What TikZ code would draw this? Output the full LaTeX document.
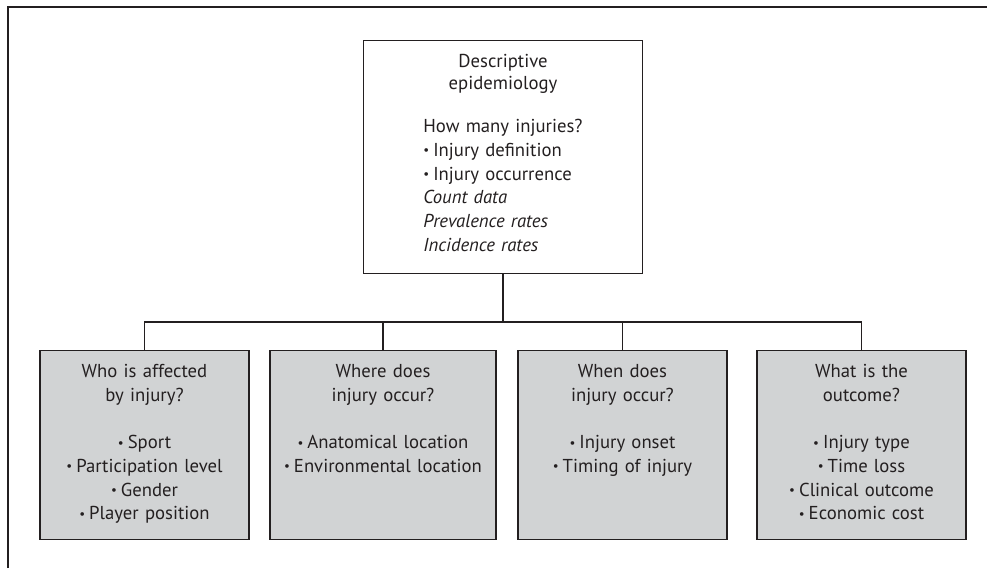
\documentclass[tikz,border=0pt]{standalone}
\usepackage{fontspec}
\setmainfont{PT Sans}
\usetikzlibrary{positioning}
\definecolor{inkgrey}{HTML}{231F20}
\definecolor{boxgrey}{HTML}{D1D3D4}
\newcommand{\bul}{\raisebox{1.6pt}{\fontsize{13}{0}\selectfont\textbullet}\hspace{4pt}}
\tikzset{
  basebox/.style={draw=inkgrey, line width=1.3pt, inner xsep=4pt, inner ysep=4pt,
    align=center, anchor=north, text=inkgrey, font=\fontsize{18.7}{23.7}\selectfont},
  topbox/.style={basebox, text width=271pt, text height=23pt, text depth=202pt},
  catbox/.style={basebox, fill=boxgrey, text width=201pt, text height=23pt, text depth=158pt},
  wire/.style={draw=inkgrey, line width=1.3pt}
}

\begin{document}
\begin{tikzpicture}[x=1pt,y=-1pt]
\useasboundingbox (0,0) rectangle (987,568);
\draw [inkgrey, line width=2pt] (8,568) -- (8,7) -- (987,7);

\node [topbox] (desc) at (503,40) {Descriptive\\[-1.7pt]epidemiology\\[19.3pt]
  \begin{tabular}[t]{@{}l@{}}
  How many injuries?\\
  \bul Injury definition\\
  \bul Injury occurrence\\
  \textit{Count data}\\
  \textit{Prevalence rates}\\
  \textit{Incidence rates}
  \end{tabular}};

\node [catbox] (who) at (144.5,350) {Who is affected\\by injury?\\[23.7pt]
  \bul Sport\\\bul Participation level\\\bul Gender\\\bul Player position};
\node [catbox, text width=218pt] (where) at (383,350) {Where does\\injury occur?\\[23.7pt]
  \bul Anatomical location\\\bul Environmental location};
\node [catbox] (when) at (622.5,350) {When does\\injury occur?\\[23.7pt]
  \bul Injury onset\\\bul Timing of injury};
\node [catbox] (outcome) at (861.5,350) {What is the\\outcome?\\[23.7pt]
  \bul Injury type\\\bul Time loss\\\bul Clinical outcome\\\bul Economic cost};

\coordinate (bar) at (503,322);
\draw [wire] (desc.south) -- (bar);
\draw [wire] (who.north) -- (who.north |- bar) -- (outcome.north |- bar) -- (outcome.north);
\draw [wire] (where.north) -- (where.north |- bar);
\draw [wire] (when.north) -- (when.north |- bar);
\end{tikzpicture}
\end{document}
